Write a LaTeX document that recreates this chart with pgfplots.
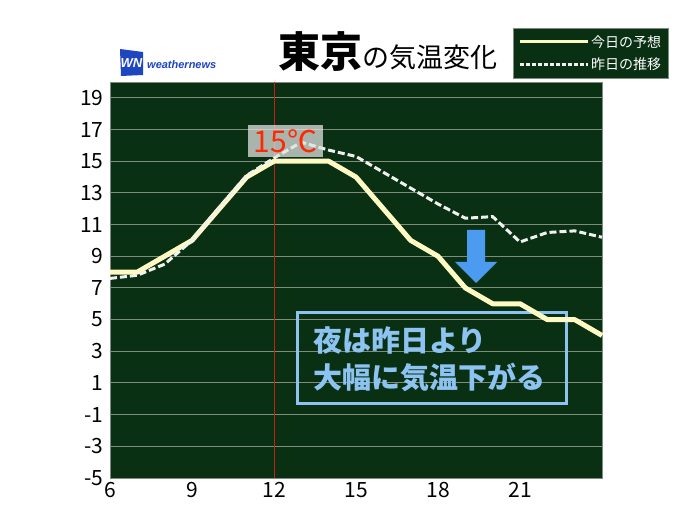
\documentclass[border=0pt]{standalone}
\usepackage{fontspec}
\setmainfont{Noto Sans CJK JP}
\newfontfamily\lsans{Liberation Sans}
\usepackage{pgfplots}
\pgfplotsset{compat=1.18}
\definecolor{bggreen}{RGB}{10,48,20}
\definecolor{gridgray}{RGB}{125,140,125}
\definecolor{cream}{RGB}{255,250,195}
\definecolor{dashwhite}{RGB}{240,240,240}
\definecolor{arrowblue}{RGB}{75,155,240}
\definecolor{boxblue}{RGB}{140,195,240}
\definecolor{logoblue}{RGB}{30,70,190}
\definecolor{redline}{RGB}{200,30,20}
\definecolor{labelred}{RGB}{255,40,0}
\begin{document}
\begin{tikzpicture}[x=1pt,y=1pt]
\fill[white] (0,0) rectangle (700,525);
\useasboundingbox (0,0) rectangle (700,525);
\begin{axis}[
  at={(110pt,47pt)}, anchor=south west,
  width=492pt, height=396pt, scale only axis,
  xmin=6, xmax=24, ymin=-5, ymax=20,
  xtick={6,9,...,21}, ytick={-5,-3,...,19},
  axis background/.style={fill=bggreen},
  axis line style={draw=gridgray, line width=0.6pt},
  ymajorgrids, grid style={draw=gridgray, line width=1pt},
  major tick length=0pt,
  tick label style={font=\fontsize{21}{21}\selectfont},
  yticklabel style={xshift=-3pt},
  xticklabel style={yshift=-1pt},
  /pgf/number format/assume math mode=true,
  clip=false,
  legend style={at={(0.819,1.136)}, anchor=north west, fill=bggreen, draw=gridgray,
    text=white, font=\fontsize{14}{14}\selectfont, inner xsep=5pt, inner ysep=5pt,
    row sep=5pt, cells={anchor=west}},
  legend image code/.code={\draw[#1] (0pt,0pt) -- (68pt,0pt);},
]
\addplot[redline, line width=1pt, forget plot] coordinates {(12,-5) (12,20)};
\draw[boxblue, line width=3pt] (axis cs:12.86,5.42) rectangle (axis cs:22.70,-0.27);
\addplot[cream, line width=5pt, line join=round, legend image post style={line width=3pt}] coordinates {
(6,8) (7,8) (8,9) (9,10) (10,12) (11,14) (12,15) (13,15) (14,15) (15,14) (16,12) (17,10)
(18,9) (19,7) (20,6) (21,6) (22,5) (23,5) (24,4)};
\addlegendentry{今日の予想}
\addplot[dashwhite, line width=3pt, dash pattern=on 7pt off 3pt,
  legend image post style={line width=2.5pt, dash pattern=on 4pt off 2pt}] coordinates {
(6,7.6) (7,7.8) (8,8.5) (9,10.0) (10,12.1) (11,14.1) (12,15.2) (13,16.2) (14,15.7) (15,15.3)
(16,14.3) (17,13.3) (18,12.3) (19,11.4) (20,11.5) (21,9.9) (22,10.5) (23,10.6) (24,10.2)};
\addlegendentry{昨日の推移}
\node[fill=white!75!gridgray, fill opacity=0.75, text opacity=1, text=labelred,
  minimum width=75pt, minimum height=32pt, inner sep=0pt,
  font=\fontsize{30}{30}\selectfont] at (axis cs:12.42,16.28) {15℃};
\end{axis}
% logo
\fill[logoblue] (120,476) -- (143,473) -- (143,450) -- (121,449) -- cycle;
\node[text=white, font=\lsans\bfseries\itshape\fontsize{13}{13}\selectfont, inner sep=0pt] at (131.5,462) {WN};
\node[anchor=west, text=logoblue, font=\lsans\bfseries\itshape\fontsize{11}{11}\selectfont, inner sep=0pt] at (147,460) {weathernews};
% title
\node[anchor=base west, inner sep=0pt] at (278,457) {{\fontsize{42}{42}\selectfont\bfseries 東京}{\fontsize{27}{27}\selectfont の気温変化}};
% arrow
\fill[arrowblue] (467,295) -- (485,295) -- (485,263) -- (497,263) -- (476,242) -- (455,263) -- (467,263) -- cycle;
% annotation text
\node[anchor=west, inner sep=0pt, text=boxblue, font=\fontsize{29}{29}\selectfont\bfseries] at (313,185) {夜は昨日より};
\node[anchor=west, inner sep=0pt, text=boxblue, font=\fontsize{29}{29}\selectfont\bfseries] at (313,148) {大幅に気温下がる};
\end{tikzpicture}
\end{document}
